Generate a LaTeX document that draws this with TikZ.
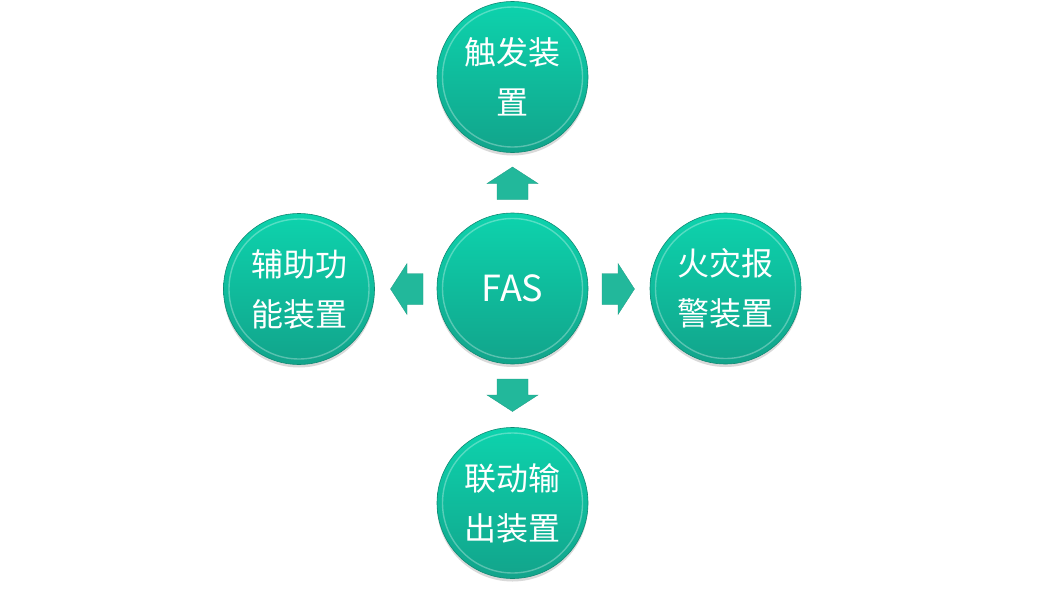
\documentclass[tikz,border=0pt]{standalone}
\usepackage{fontspec}
\setmainfont{Noto Sans CJK SC}
\usetikzlibrary{shadows}
\definecolor{topc}{HTML}{0DD3AD}
\definecolor{botc}{HTML}{12A48B}
\definecolor{rimdark}{HTML}{0F8A74}
\definecolor{arrowc}{HTML}{22B89B}
\tikzset{
  ball/.style={circle, minimum size=151pt, inner sep=0pt, draw=rimdark, line width=0.6pt,
    top color=topc, bottom color=botc, text=white, align=center,
    font=\fontsize{32}{50}\selectfont,
    drop shadow={shadow xshift=0pt, shadow yshift=-3pt, opacity=0.25, fill=black!60}},
  rimring/.style={draw=white, draw opacity=0.3, line width=1.4pt},
  blockarrow/.style={fill=arrowc, draw=arrowc!85!black, line width=0.3pt}
}
\newcommand{\myblockarrow}[3]{%
  \path[blockarrow, shift={(#1,#2)}, rotate=#3]
    (-16,-15.5) -- (0,-15.5) -- (0,-25.5) -- (16.5,0) -- (0,25.5) -- (0,15.5) -- (-16,15.5) -- cycle;}
\begin{document}
\begin{tikzpicture}[x=1pt, y=-1pt]
\useasboundingbox (0,0) rectangle (1052,597);
\node[ball, font=\fontsize{36}{40}\selectfont] (fas) at (512.5,288.5) {FAS};
\node[ball] (top) at (512.5,77) {触发装\\置};
\node[ball] (left) at (299,289) {辅助功\\能装置};
\node[ball] (right) at (725.5,288.5) {火灾报\\警装置};
\node[ball] (bottom) at (512.5,503) {联动输\\出装置};
\foreach \n in {fas,top,left,right,bottom}{
  \draw[rimring] (\n.center) circle (70);
}
\myblockarrow{618}{289}{0}
\myblockarrow{407}{289}{180}
\myblockarrow{512.5}{183.5}{90}
\myblockarrow{512.5}{395}{-90}
\end{tikzpicture}
\end{document}
